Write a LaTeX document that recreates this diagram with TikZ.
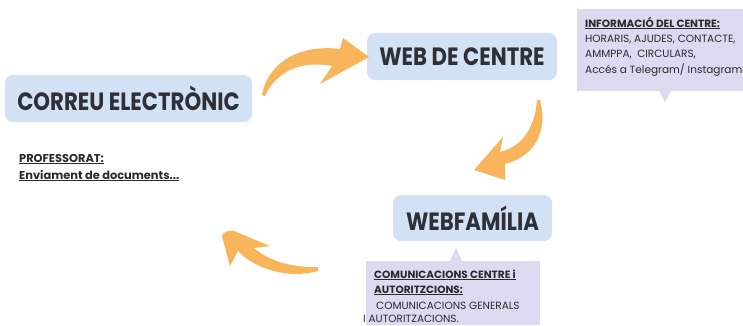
\documentclass[tikz,border=0pt]{standalone}
\usepackage{fontspec}
\usepackage{graphicx}
\setmainfont{Poppins}
\definecolor{arroworange}{HTML}{F8B55B}
\definecolor{boxblue}{HTML}{D2E1F3}
\definecolor{lavender}{HTML}{DCDAF1}
\definecolor{ink}{HTML}{2F2F38}
\definecolor{smallink}{HTML}{2A2A2A}
\newcommand{\ttltext}[1]{\fontsize{25}{25}\selectfont\bfseries\scalebox{0.85}[1]{#1}}
\tikzset{
  titlebox/.style={fill=boxblue, rounded corners=8pt, inner sep=0pt, text=ink},
  swoosh/.style={fill=arroworange, draw=none},
  smalltxt/.style={inner sep=0pt, anchor=base west, text=smallink, font=\fontsize{10.5}{15.5}\selectfont},
  boldtxt/.style={inner sep=0pt, anchor=base west, text=smallink, font=\fontsize{10.5}{16}\selectfont\bfseries},
  proftxt/.style={inner sep=0pt, anchor=base west, text=smallink, font=\fontsize{11.4}{17}\selectfont\bfseries},
  callout/.style={fill=lavender, draw=none}
}
\begin{document}
\begin{tikzpicture}[x=1pt,y=-1pt]
\useasboundingbox (0,0) rectangle (743,325);
\fill[white] (0,0) rectangle (743,325);

% title boxes
\node[titlebox, minimum width=247pt, minimum height=47pt] (correu) at (128.5,98.5) {\ttltext{CORREU ELECTRÒNIC}};
\node[titlebox, minimum width=190pt, minimum height=47pt] (web) at (462,56.5) {\ttltext{WEB DE CENTRE}};
\node[titlebox, minimum width=159pt, minimum height=46pt] (webfam) at (472.5,218) {\ttltext{WEBFAMÍLIA}};

% callout top right
\fill[callout] (577,9) rectangle (743,91);
\fill[callout] (659,91) -- (665,102) -- (671,91) -- cycle;
\node[boldtxt] (infohead) at (585,27) {\underline{INFORMACIÓ DEL CENTRE:}};
\node[smalltxt] (info1) at (585,42) {HORARIS, AJUDES, CONTACTE,};
\node[smalltxt] (info2) at (585,57) {AMMPPA,\ \ CIRCULARS,};
\node[smalltxt] (info3) at (585,73) {Accés a Telegram/ Instagram};

% callout bottom
\fill[callout] (366,261) rectangle (540,325);
\fill[callout] (450,261) -- (456,248) -- (462,261) -- cycle;
\node[boldtxt] (comhead1) at (374,278) {\underline{COMUNICACIONS CENTRE i}};
\node[boldtxt] (comhead2) at (374,293) {\underline{AUTORITZCIONS:}};
\node[smalltxt] (combody1) at (376,309) {COMUNICACIONS GENERALS};
\node[smalltxt] (combody2) at (363,322.5) {I AUTORITZACIONS.};

% professorat
\node[proftxt] (prof1) at (19,162) {\underline{PROFESSORAT:}};
\node[proftxt] (prof2) at (19,179) {\underline{Enviament de documents...}};

% arrow 1: correu -> web
\fill[swoosh] (262,95) .. controls (268,62) and (300,44) .. (340,49)
  -- (343,38) -- (369,57) -- (320,84) -- (332,66)
  .. controls (300,60) and (276,72) .. (265,96) -- cycle;
% arrow 2: web -> webfam
\fill[swoosh] (540,100) .. controls (548,130) and (536,156) .. (505,164)
  -- (505,180) -- (474,170) -- (503,137) -- (500,152)
  .. controls (524,146) and (535,126) .. (537,100) -- cycle;
% arrow 3: webfam -> correu side
\fill[swoosh] (318,271) .. controls (290,279) and (256,270) .. (238,251)
  -- (230,266) -- (222,236) .. controls (223,232) and (228,230) .. (234,231)
  -- (270,246) -- (254,248)
  .. controls (270,262) and (295,268) .. (318,267) -- cycle;
\end{tikzpicture}
\end{document}
